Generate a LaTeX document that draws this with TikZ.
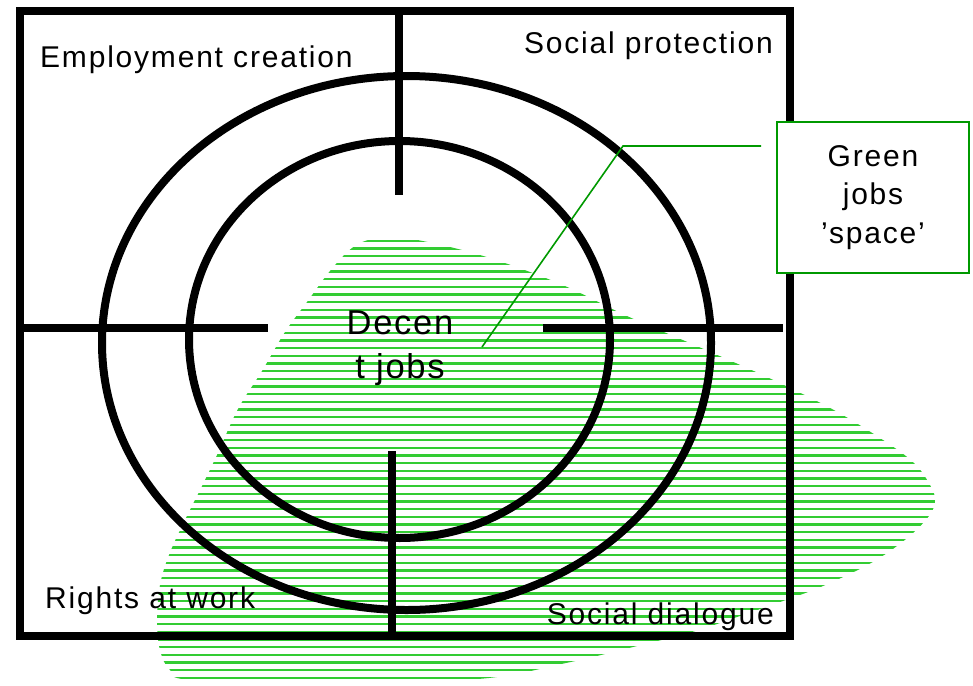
\documentclass[tikz,border=0pt]{standalone}
\usepackage{fontspec}
\setmainfont{Liberation Sans}[LetterSpace=6]
\newfontfamily\centrefont{Liberation Sans}[LetterSpace=5]
\definecolor{hatchgreen}{RGB}{51,204,51}
\definecolor{calloutgreen}{RGB}{0,153,0}
\begin{document}
\begin{tikzpicture}[x=1pt,y=-1pt,
  frame/.style={line width=8pt,black,line join=miter},
  hatchline/.style={line width=2.4pt,draw=hatchgreen},
  label/.style={inner sep=0pt,font=\fontsize{30}{38.5}\selectfont},
  centrelabel/.style={inner sep=0pt,align=center,font=\centrefont\fontsize{34.5}{44}\selectfont},
  calloutbox/.style={draw=calloutgreen,line width=1.6pt,fill=white,
    minimum width=192pt,minimum height=151pt,inner sep=0pt,align=center,
    font=\fontsize{30}{38.5}\selectfont},
  calloutline/.style={draw=calloutgreen,line width=1.6pt}]
\useasboundingbox (0,0) rectangle (973,685);

% hatched green-jobs region
\begin{scope}
  \clip plot[smooth cycle,tension=0.6] coordinates {
    (398,237) (450,247) (502,262) (565,286) (627,316) (699,347) (769,378)
    (832,409) (883,440) (914,463) (930,485) (935,500) (929,516) (906,539)
    (871,563) (823,586) (783,601) (740,616) (692,632) (633,647) (566,663)
    (478,679) (330,682) (192,680) (170,670) (160,650) (157,620) (160,585)
    (169,555) (183,524) (202,486) (217,455) (238,409) (262,371) (285,332)
    (307,302) (330,271) (352,248) (372,239)};
  \foreach \k in {0,...,57}
    \draw[hatchline] (140,240.7+7.67*\k) -- (945,240.7+7.67*\k);
\end{scope}

% target: frame, cross hairs and rings
\draw[frame] (20,11) rectangle (790,636);
\draw[frame] (406.5,343) ellipse [x radius=304.5,y radius=267];
\draw[frame] (399.5,339.5) ellipse [x radius=210.5,y radius=198.5];
\draw[frame] (398.5,11) -- (398.5,195);
\draw[frame] (392,451) -- (392,636);
\draw[frame] (20,328) -- (268,328);
\draw[frame] (543,328) -- (783,328);

% quadrant labels
\node[label,anchor=base west] (emp) at (40,67) {Employment creation};
\node[label,anchor=base east] (prot) at (773,53) {Social protection};
\node[label,anchor=base west] (rights) at (45,608) {Rights at work};
\node[label,anchor=base east] (dial) at (774,624) {Social dialogue};
\node[centrelabel] (decent) at (400,348.5) {Decen\\t jobs};

% callout
\node[calloutbox] (green) at (873,197.5) {Green\\jobs\\’space’};
\coordinate (leadstart) at (761,146);
\coordinate (leadbend) at (623,146);
\coordinate (leadend) at (482,347);
\draw[calloutline] (leadstart) -- (leadbend) -- (leadend);
\end{tikzpicture}
\end{document}
